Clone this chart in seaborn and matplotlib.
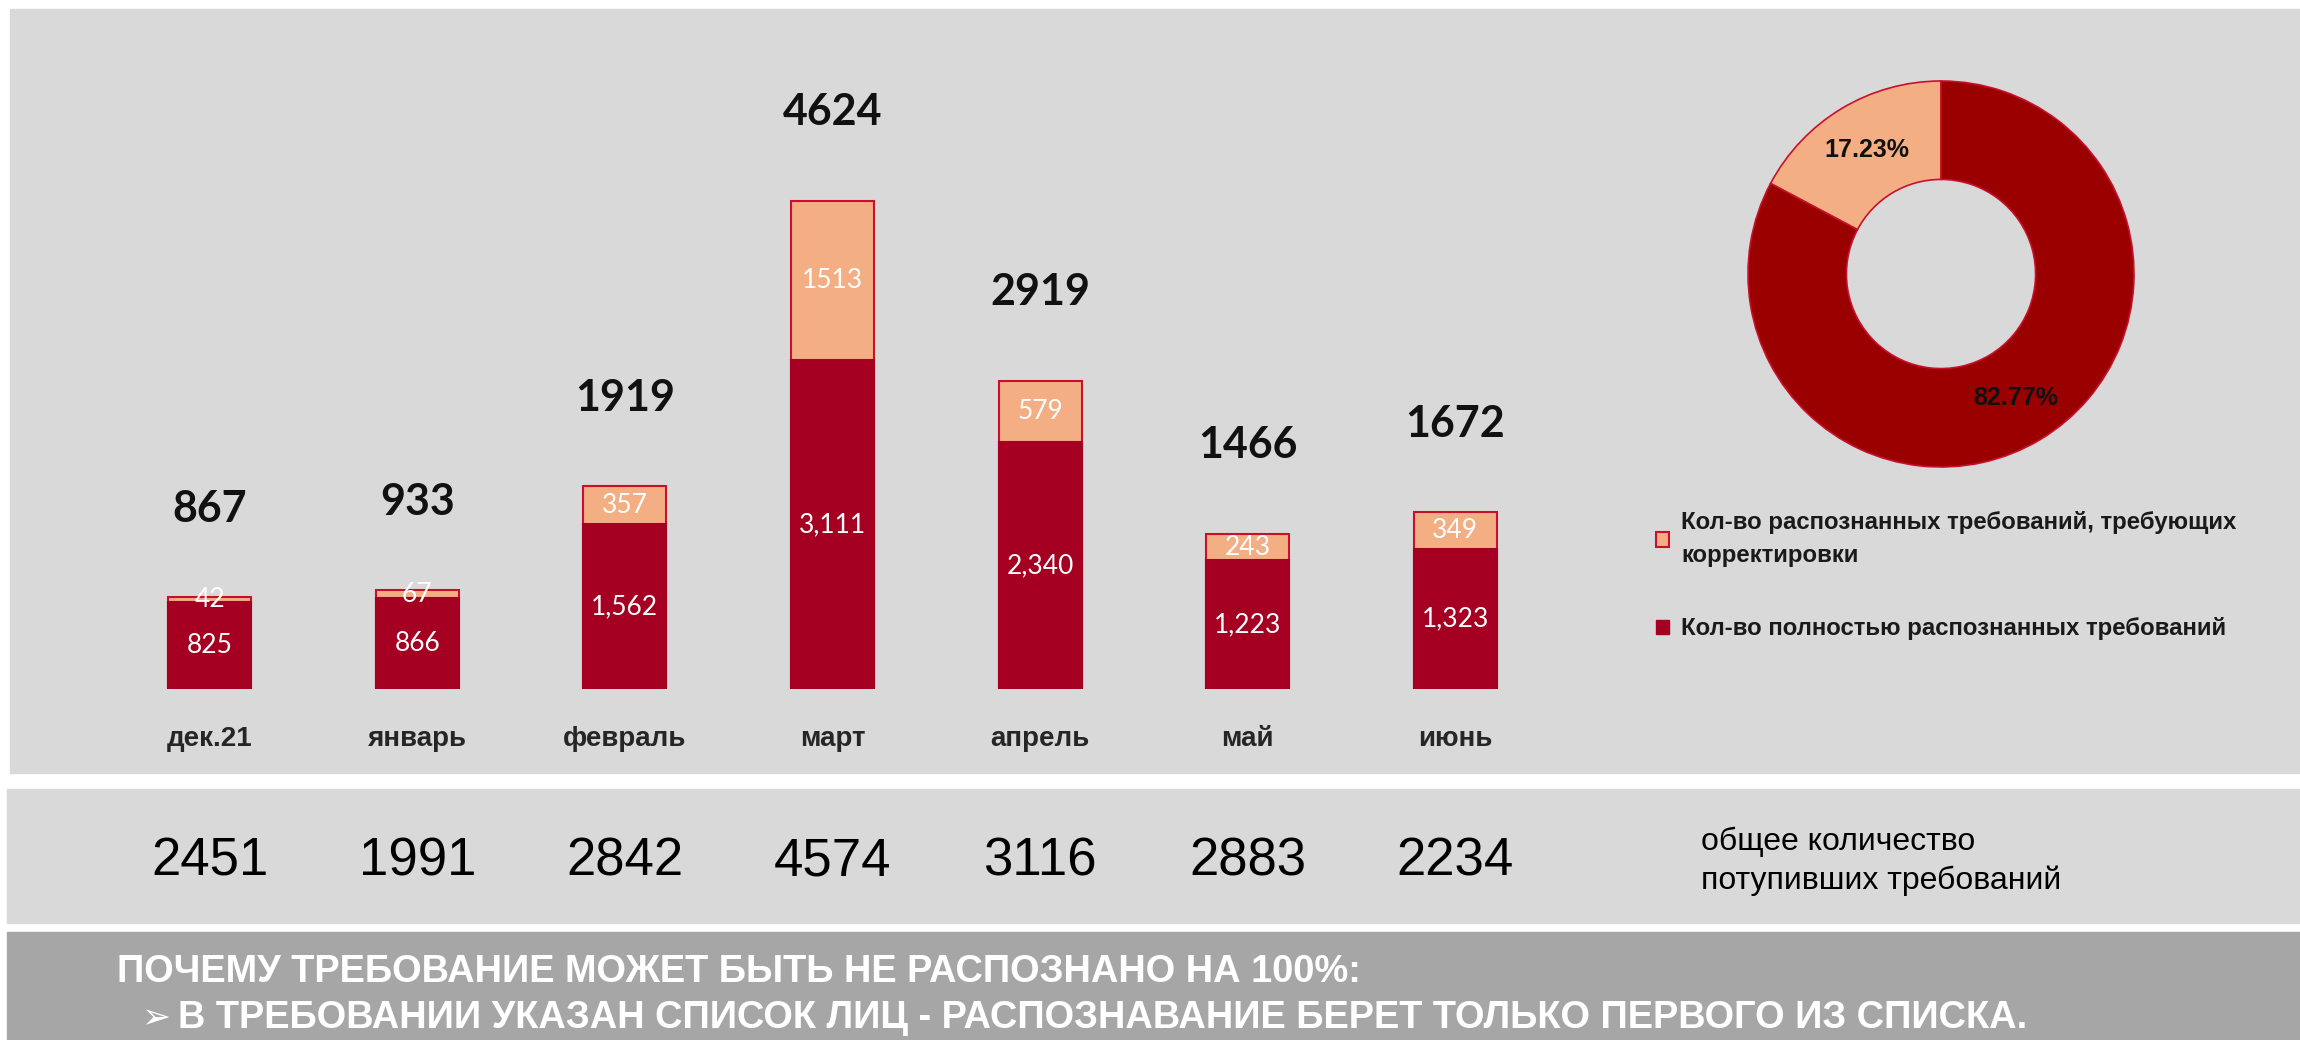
import matplotlib
matplotlib.use('Agg')
import matplotlib.pyplot as plt
import seaborn as sns
import pandas as pd
from matplotlib.patches import Rectangle, Patch

# данные по месяцам
months = ['дек.21', 'январь', 'февраль', 'март', 'апрель', 'май', 'июнь']
full_ok = [825, 866, 1562, 3111, 2340, 1223, 1323]        # полностью распознанные
need_fix = [42, 67, 357, 1513, 579, 243, 349]             # требуют корректировки
received = [2451, 1991, 2842, 4574, 3116, 2883, 2234]     # всего поступило

# доли для кольцевой диаграммы
share_labels = ['Кол-во распознанных требований, требующих\nкорректировки',
                'Кол-во полностью распознанных требований']
share_pct = [17.23, 82.77]

received_caption = 'общее количество\nпотупивших требований'
note_title = 'ПОЧЕМУ ТРЕБОВАНИЕ МОЖЕТ БЫТЬ НЕ РАСПОЗНАНО НА 100%:'
note_item = 'В ТРЕБОВАНИИ УКАЗАН СПИСОК ЛИЦ - РАСПОЗНАВАНИЕ БЕРЕТ ТОЛЬКО ПЕРВОГО ИЗ СПИСКА.'

DARK = '#A50021'
DONUT_DARK = '#9A0000'
LIGHT = '#F4AE84'
EDGE = '#C8102E'
PANEL = '#D9D9D9'
PANEL_DARK = '#A6A6A6'

sns.set_theme(style='white')
plt.rcParams['font.family'] = ['Liberation Sans', 'DejaVu Sans']
CALI = ['Lato', 'DejaVu Sans']

W, H = 2300, 1040
def fx(px):
	return px / W
def fy(py):
	return 1 - py / H

fig = plt.figure(figsize=(23, 10.4), dpi=100)
fig.patch.set_facecolor('white')

# фоновые плашки
for x0, y0, x1, y1, c in [(10, 9, 2300, 773, PANEL), (7, 789, 2300, 923, PANEL), (7, 932, 2300, 1040, PANEL_DARK)]:
	fig.add_artist(Rectangle((fx(x0), fy(y1)), (x1 - x0) / W, (y1 - y0) / H,
						transform=fig.transFigure, color=c, zorder=0))

# 1. Столбцы с накоплением
totals = [a + b for a, b in zip(full_ok, need_fix)]
df = pd.DataFrame({'month': months, 'total': totals, 'ok': full_ok})

ax = fig.add_axes([fx(106), fy(689), (1559 - 106) / W, (689 - 161) / H])
ax.set_facecolor('none')
sns.barplot(data=df, x='month', y='total', color=LIGHT, saturation=1, width=0.4,
			edgecolor=EDGE, linewidth=1.5, ax=ax)
sns.barplot(data=df, x='month', y='ok', color=DARK, saturation=1, width=0.4,
			edgecolor=DARK, linewidth=1.5, ax=ax)
ax.set_xlim(-0.5, 6.5)
ax.set_ylim(0, 5000)
ax.set_xlabel('')
ax.set_ylabel('')
ax.set_yticks([])
sns.despine(ax=ax, left=True, bottom=True)
ax.tick_params(axis='x', length=0, pad=27, labelsize=20, labelcolor='#262626')
for lab in ax.get_xticklabels():
	lab.set_fontweight('bold')

for i, (ok, fix, tot) in enumerate(zip(full_ok, need_fix, totals)):
	ax.text(i, tot + 840, str(tot), ha='center', va='center', fontsize=31,
			fontweight='bold', color='#111111', family=CALI)
	ax.text(i, ok / 2, f'{ok:,}', ha='center', va='center', fontsize=19,
			color='white', family=CALI)
	ax.text(i, ok + fix / 2, str(fix), ha='center', va='center', fontsize=19,
			color='white', family=CALI)

# 2. Кольцевая диаграмма
axp = fig.add_axes([fx(1748), fy(467), 386 / W, 386 / H])
wedges, _, autotexts = axp.pie(share_pct, colors=[LIGHT, DONUT_DARK], startangle=90,
							   counterclock=True, autopct='%.2f%%', pctdistance=0.75,
							   wedgeprops=dict(width=0.51, edgecolor=EDGE, linewidth=1.2))
for t in autotexts:
	t.set_fontsize(18)
	t.set_fontweight('bold')
	t.set_color('#111111')
axp.set_xlim(-1, 1)
axp.set_ylim(-1, 1)

handles = [Patch(facecolor=LIGHT, edgecolor=EDGE, linewidth=1.5),
		   Patch(facecolor=DARK, edgecolor=DARK)]
leg = fig.legend(handles, share_labels, loc='upper left', bbox_to_anchor=(fx(1656), fy(511)),
				 frameon=False, handlelength=0.55, handleheight=0.55, handletextpad=0.5,
				 labelspacing=2.1, borderpad=0, borderaxespad=0,
				 prop={'weight': 'bold', 'size': 17.3})
for t in leg.get_texts():
	t.set_color('#1a1a1a')
	t.set_linespacing(1.55)

# 3. Всего поступивших требований
ax2 = fig.add_axes([fx(106), fy(923), (1559 - 106) / W, 134 / H])
ax2.set_xlim(-0.5, 6.5)
ax2.set_ylim(0, 1)
ax2.axis('off')
for i, v in enumerate(received):
	ax2.text(i, 0.46, str(v), ha='center', va='center', fontsize=38, color='black')
fig.text(fx(1701), fy(861), received_caption, ha='left', va='center', fontsize=23,
		 color='black', linespacing=1.35)

# 4. Примечание
fig.text(fx(117), fy(972), note_title, ha='left', va='center', fontsize=27.4,
		 fontweight='bold', color='white')
fig.text(fx(141), fy(1018), '➢', ha='left', va='center', fontsize=25,
		 color='white', family=['DejaVu Sans'])
fig.text(fx(178), fy(1018), note_item, ha='left', va='center', fontsize=27.4,
		 fontweight='bold', color='white')

fig.savefig('out.png', dpi=100, facecolor=fig.get_facecolor())
